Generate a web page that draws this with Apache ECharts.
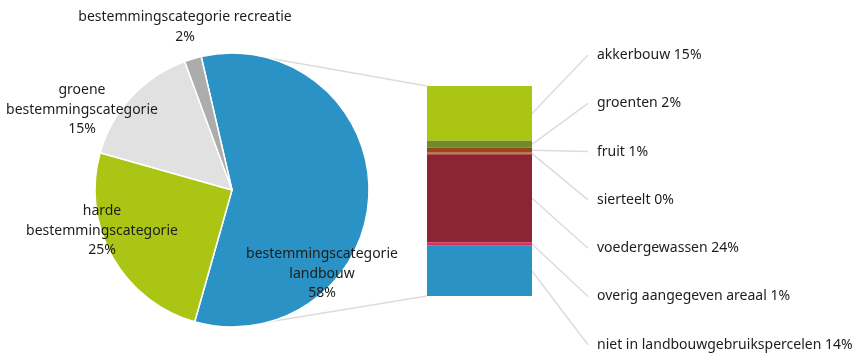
<!DOCTYPE html>
<html><head><meta charset="utf-8">
<script src="https://cdn.jsdelivr.net/npm/echarts@6/dist/echarts.min.js"></script>
<style>html,body{margin:0;padding:0;background:#fff}#c{width:861px;height:354px}</style>
</head><body><div id="c"></div>
<script>
// Pie data
const pieNames = ['bestemmingscategorie\nlandbouw', 'harde\nbestemmingscategorie', 'groene\nbestemmingscategorie', 'bestemmingscategorie recreatie'];
const pieValues = [58, 25, 15, 2];
const pieColors = ['#2a92c4', '#aac514', '#e1e1e1', '#acacac'];

// Breakdown of landbouw (top to bottom)
const barNames = ['akkerbouw', 'groenten', 'fruit', 'sierteelt', 'voedergewassen', 'overig aangegeven areaal', 'niet in landbouwgebruikspercelen'];
const barValues = [15.1, 1.9, 1.4, 0.4, 24.2, 1.0, 13.8];
const barColors = ['#aac514', '#718a2c', '#994818', '#e0782a', '#8b2536', '#d7335a', '#2a92c4'];

// layout constants
const cx = 232, cy = 190, R = 137;
const labelDx = [90, -130, -150, -47];
const labelDy = [84, 41, -80, -163];
const labelTop = 55, labelStep = 48.3, leaderEndX = 588;
const connectorAngle = 16;
const font = 'Noto Sans';
const txtColor = '#1d1d1b';

const total = barValues.reduce((a, b) => a + b, 0);
const segData = barValues.map((v, i) => {
  let lo = 0;
  for (let j = i + 1; j < barValues.length; j++) lo += barValues[j];
  return [0, lo, lo + v, i];
});

const chart = echarts.init(document.getElementById('c'));
chart.setOption({
  animation: false,
  grid: { left: 427, width: 105, top: 86, height: 210 },
  xAxis: { type: 'category', data: ['landbouw'], show: false, boundaryGap: true },
  yAxis: { type: 'value', min: 0, max: total, show: false },
  series: [
    {
      type: 'pie',
      center: [cx, cy],
      radius: R,
      startAngle: 103,
      clockwise: true,
      data: pieNames.map((n, i) => ({ name: n, value: pieValues[i], itemStyle: { color: pieColors[i] } })),
      itemStyle: { borderColor: '#fff', borderWidth: 1.5 },
      label: {
        position: 'inside',
        formatter: p => p.name + '\n' + p.value + '%',
        fontFamily: font, fontSize: 14, lineHeight: 19.5, color: txtColor, align: 'center'
      },
      labelLine: { show: false },
      labelLayout: p => ({ x: cx + labelDx[p.dataIndex], y: cy + labelDy[p.dataIndex], align: 'center', verticalAlign: 'middle' }),
      emphasis: { disabled: true }
    },
    {
      type: 'custom',
      coordinateSystem: 'cartesian2d',
      data: [[0, 0, total]],
      encode: { x: 0, y: [1, 2] },
      renderItem: (params, api) => {
        const top = api.coord([0, api.value(2)]);
        const bot = api.coord([0, api.value(1)]);
        const w = api.size([1, 0])[0];
        const xl = top[0] - w / 2;
        const a = connectorAngle * Math.PI / 180;
        const px = cx + R * Math.sin(a);
        const st = { stroke: '#dcdcdc', lineWidth: 1.5 };
        return { type: 'group', children: [
          { type: 'line', shape: { x1: px, y1: cy - R * Math.cos(a), x2: xl, y2: top[1] }, style: st },
          { type: 'line', shape: { x1: px, y1: cy + R * Math.cos(a), x2: xl, y2: bot[1] }, style: st }
        ]};
      },
      z: 1
    },
    {
      type: 'custom',
      coordinateSystem: 'cartesian2d',
      data: segData,
      encode: { x: 0, y: [1, 2] },
      renderItem: (params, api) => {
        const i = api.value(3);
        const lo = api.coord([0, api.value(1)]);
        const hi = api.coord([0, api.value(2)]);
        const w = api.size([1, 0])[0];
        const xl = lo[0] - w / 2, xr = lo[0] + w / 2;
        const midY = (lo[1] + hi[1]) / 2;
        const ly = labelTop + i * labelStep;
        return { type: 'group', children: [
          { type: 'line', shape: { x1: xr, y1: midY, x2: leaderEndX, y2: ly }, style: { stroke: '#dcdcdc', lineWidth: 1.5 } },
          { type: 'rect', shape: { x: xl, y: hi[1], width: w, height: lo[1] - hi[1] }, style: { fill: barColors[i] } },
          { type: 'text', style: { x: leaderEndX + 9, y: ly, text: barNames[i] + ' ' + Math.round(barValues[i]) + '%',
              fontFamily: font, fontSize: 14, fill: txtColor, align: 'left', verticalAlign: 'middle' } }
        ]};
      },
      z: 2
    }
  ]
});
</script></body></html>
